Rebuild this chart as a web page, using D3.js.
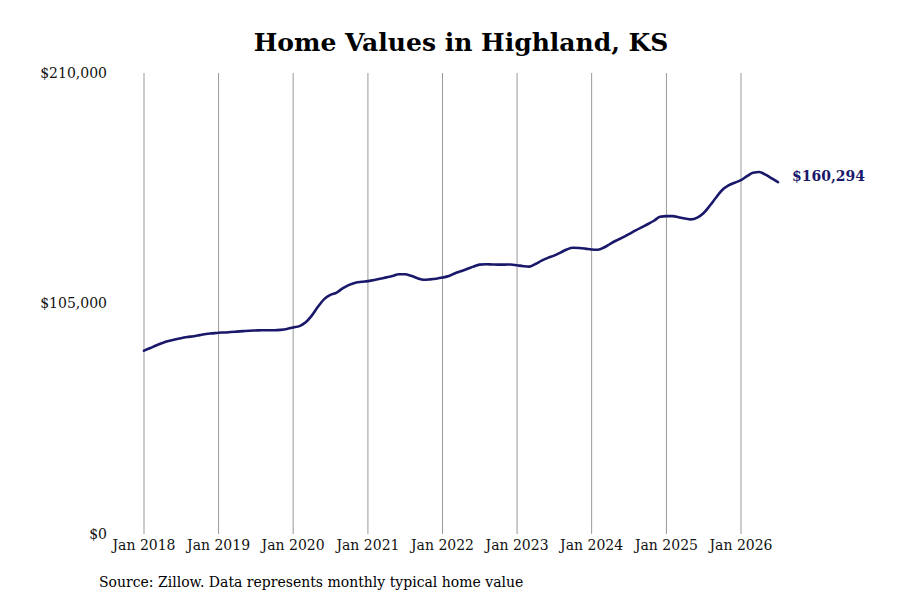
<!DOCTYPE html>
<html>
<head>
<meta charset="utf-8">
<script src="https://cdn.jsdelivr.net/npm/d3@7"></script>
<style>
  body { margin: 0; background: #fff; }
  text { font-family: "DejaVu Serif", serif; }
</style>
</head>
<body>
<div id="chart"></div>
<script>
// monthly typical home value, Jan 2018 - Jul 2026
const startYear = 2018;
const values2018 = [83500, 84700, 85900, 87000, 87900, 88600, 89200, 89700, 90100, 90600, 91100, 91400];
const values2019 = [91700, 91800, 92000, 92200, 92400, 92600, 92700, 92800, 92800, 92800, 93000, 93400];
const values2020 = [94100, 94700, 96300, 99500, 103500, 107000, 108900, 110000, 112000, 113500, 114500, 114900];
const values2021 = [115200, 115700, 116300, 116900, 117500, 118300, 118300, 117600, 116500, 115800, 116000, 116300];
const values2022 = [116800, 117500, 118700, 119700, 120700, 121800, 122700, 122900, 122800, 122700, 122700, 122800];
const values2023 = [122400, 122000, 121800, 123000, 124500, 125800, 126800, 128200, 129600, 130400, 130300, 130000];
const values2024 = [129600, 129500, 130500, 132200, 133700, 135100, 136600, 138200, 139700, 141100, 142700, 144500];
const values2025 = [144800, 144800, 144300, 143700, 143300, 144100, 146100, 149500, 153300, 156700, 158800, 160000];
const values2026 = [161200, 163100, 164600, 164900, 163700, 162000, 160294];

const yTicks = [0, 105000, 210000];
const xTickYears = [2018, 2019, 2020, 2021, 2022, 2023, 2024, 2025, 2026];

const allValues = [].concat(values2018, values2019, values2020, values2021,
    values2022, values2023, values2024, values2025, values2026);

const data = allValues.map((v, i) => ({
    date: new Date(startYear, i, 1),
    value: v
}));

const width = 900;
const height = 600;
const margin = { top: 73, right: 122, bottom: 66, left: 144 };

const svg = d3.select("#chart")
    .append("svg")
    .attr("width", width)
    .attr("height", height);

const x = d3.scaleTime()
    .domain([new Date(2018, 0, 1), new Date(2026, 0, 1)])
    .range([margin.left, 741]);

const y = d3.scaleLinear()
    .domain([0, 210000])
    .range([height - margin.bottom, margin.top]);

// vertical grid lines at each January
svg.append("g")
    .selectAll("line")
    .data(xTickYears)
    .enter()
    .append("line")
    .attr("x1", d => x(new Date(d, 0, 1)))
    .attr("x2", d => x(new Date(d, 0, 1)))
    .attr("y1", y(210000))
    .attr("y2", y(0))
    .attr("stroke", "#999")
    .attr("stroke-width", 1);

// x tick labels
svg.append("g")
    .selectAll("text")
    .data(xTickYears)
    .enter()
    .append("text")
    .attr("x", d => x(new Date(d, 0, 1)))
    .attr("y", y(0) + 16)
    .attr("text-anchor", "middle")
    .style("font-size", "14px")
    .attr("fill", "#111")
    .text(d => `Jan ${d}`);

// y tick labels
const fmt = d3.format("$,.0f");
svg.append("g")
    .selectAll("text")
    .data(yTicks)
    .enter()
    .append("text")
    .attr("x", 107)
    .attr("y", d => y(d))
    .attr("dy", "0.35em")
    .attr("text-anchor", "end")
    .style("font-size", "14px")
    .attr("fill", "#111")
    .text(d => fmt(d));

const line = d3.line()
    .x(d => x(d.date))
    .y(d => y(d.value))
    .curve(d3.curveMonotoneX);

svg.append("path")
    .datum(data)
    .attr("fill", "none")
    .attr("stroke", "#1a186a")
    .attr("stroke-width", 2.6)
    .attr("stroke-linejoin", "round")
    .attr("stroke-linecap", "round")
    .attr("d", line);

const last = data[data.length - 1];
svg.append("text")
    .attr("x", x(last.date) + 14)
    .attr("y", y(last.value) - 6)
    .attr("dy", "0.35em")
    .style("font-size", "14px")
    .style("font-weight", "bold")
    .attr("fill", "#1a186a")
    .text(fmt(last.value));

svg.append("text")
    .attr("x", 461)
    .attr("y", 51)
    .attr("text-anchor", "middle")
    .style("font-size", "25px")
    .style("font-weight", "bold")
    .attr("fill", "#000")
    .text("Home Values in Highland, KS");

svg.append("text")
    .attr("x", 99)
    .attr("y", 587)
    .style("font-size", "14px")
    .attr("fill", "#000")
    .text("Source: Zillow. Data represents monthly typical home value");
</script>
</body>
</html>
